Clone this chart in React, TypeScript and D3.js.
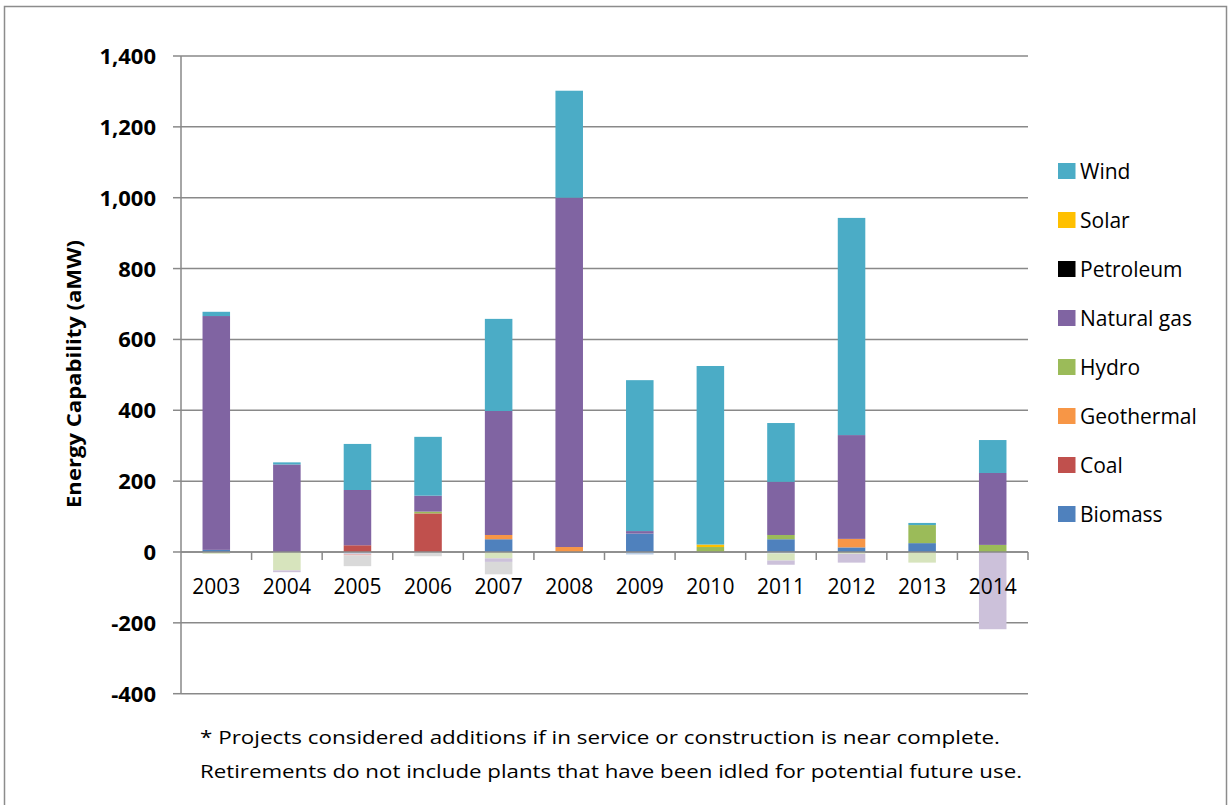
import React from "react";
import * as d3 from "d3";

const years = ["2003", "2004", "2005", "2006", "2007", "2008", "2009", "2010", "2011", "2012", "2013", "2014"];

const biomass = [6, 0, 0, 0, 36, 0, 52, 0, 36, 13, 25, 0];
const coal = [0, 0, 19, 109, 0, 0, 0, 0, 0, 0, 0, 0];
const geothermal = [0, 0, 0, 0, 12, 14, 0, 0, 0, 24, 0, 0];
const hydro = [0, 0, 0, 5, 0, 0, 0, 14, 12, 0, 51, 20];
const naturalGas = [660, 247, 156, 45, 350, 986, 7, 0, 150, 293, 0, 203];
const petroleum = [0, 0, 0, 0, 0, 0, 0, 0, 0, 0, 0, 0];
const solar = [0, 0, 0, 0, 0, 0, 0, 7, 0, 0, 0, 0];
const wind = [12, 6, 130, 166, 260, 302, 426, 504, 166, 613, 6, 93];

const biomassRet = [0, 0, -5, 0, 0, 0, -7, 0, -4, 0, 0, 0];
const coalRet = [0, 0, -5, 0, 0, 0, 0, 0, 0, 0, 0, 0];
const hydroRet = [-5, -52, 0, 0, -18, 0, 0, 0, -20, -5, -30, 0];
const naturalGasRet = [0, -5, 0, 0, -10, 0, 0, 0, -12, -25, 0, -218];
const petroleumRet = [0, 0, -30, -12, -35, 0, 0, 0, 0, 0, 0, 0];

const yTicks = [-400, -200, 0, 200, 400, 600, 800, 1000, 1200, 1400];
const legendNames = ["Wind", "Solar", "Petroleum", "Natural gas", "Hydro", "Geothermal", "Coal", "Biomass"];

const series: { key: string; values: number[]; color: string }[] = [
  { key: "Biomass", values: biomass, color: "#4F81BD" },
  { key: "Coal", values: coal, color: "#C0504D" },
  { key: "Geothermal", values: geothermal, color: "#F79646" },
  { key: "Hydro", values: hydro, color: "#9BBB59" },
  { key: "Natural gas", values: naturalGas, color: "#8064A2" },
  { key: "Petroleum", values: petroleum, color: "#000000" },
  { key: "Solar", values: solar, color: "#FFC000" },
  { key: "Wind", values: wind, color: "#4BACC6" },
  { key: "Biomass ret", values: biomassRet, color: "#B9CDE5" },
  { key: "Coal ret", values: coalRet, color: "#E6B9B8" },
  { key: "Hydro ret", values: hydroRet, color: "#D7E4BD" },
  { key: "Natural gas ret", values: naturalGasRet, color: "#CCC1DA" },
  { key: "Petroleum ret", values: petroleumRet, color: "#D9D9D9" },
];

const colorOf: Record<string, string> = {};
series.forEach((s) => (colorOf[s.key] = s.color));

const FONT = "'Open Sans', 'Noto Sans', sans-serif";
const GRID = "#898989";

export default function App() {
  const left = 181;
  const right = 1028;
  const top = 56;
  const bottom = 693.7;

  const x = d3.scaleBand<string>().domain(years).range([left, right]).paddingInner(0.61).paddingOuter(0.305);
  const y = d3.scaleLinear().domain([-400, 1400]).range([bottom, top]);

  const table = years.map((yr, i) => {
    const row: Record<string, any> = { year: yr };
    series.forEach((s) => (row[s.key] = s.values[i]));
    return row;
  });
  const stacked = d3
    .stack<Record<string, any>>()
    .keys(series.map((s) => s.key))
    .offset(d3.stackOffsetDiverging)(table);

  const step = x.step();
  const fmt = (t: number) => d3.format(",")(t).replace("\u2212", "-");

  return (
    <svg width={1232} height={805} style={{ position: "absolute", left: 0, top: 0, background: "#fff" }}>
      <rect x={4.5} y={6.5} width={1222} height={820} fill="#fff" stroke="#8c8c8c" strokeWidth={1.5} />
      {/* gridlines */}
      {yTicks.map((t) => (
        <line key={t} x1={left} x2={right} y1={y(t)} y2={y(t)} stroke={GRID} strokeWidth={1.5} />
      ))}
      {/* bars */}
      {stacked.map((layer) => (
        <g key={layer.key} fill={colorOf[layer.key]}>
          {layer.map((d, i) => {
            const h = Math.abs(y(d[0]) - y(d[1]));
            if (h < 0.01) return null;
            return (
              <rect
                key={i}
                x={x(years[i])}
                y={Math.min(y(d[0]), y(d[1]))}
                width={x.bandwidth()}
                height={h}
              />
            );
          })}
        </g>
      ))}
      {/* y axis */}
      <line x1={left} x2={left} y1={top} y2={bottom} stroke={GRID} strokeWidth={1.5} />
      {yTicks.map((t) => (
        <line key={"yt" + t} x1={left - 8} x2={left} y1={y(t)} y2={y(t)} stroke={GRID} strokeWidth={1.5} />
      ))}
      {yTicks.map((t) => (
        <text
          key={"yl" + t}
          x={156}
          y={y(t) + 8}
          textAnchor="end"
          fontFamily={FONT}
          fontWeight="bold"
          fontSize={22}
          fill="#000"
        >
          {fmt(t)}
        </text>
      ))}
      {/* zero axis */}
      <line x1={left} x2={right} y1={y(0)} y2={y(0)} stroke={GRID} strokeWidth={1.5} />
      {years.map((yr, i) => (
        <line
          key={"xt" + yr}
          x1={left + step * (i + 1)}
          x2={left + step * (i + 1)}
          y1={y(0)}
          y2={y(0) + 8}
          stroke={GRID}
          strokeWidth={1.5}
        />
      ))}
      {years.map((yr) => (
        <text
          key={"xl" + yr}
          x={(x(yr) as number) + x.bandwidth() / 2}
          y={594}
          textAnchor="middle"
          fontFamily={FONT}
          fontSize={21}
          fill="#000"
        >
          {yr}
        </text>
      ))}
      {/* y axis title */}
      <text
        transform="translate(81,374) rotate(-90)"
        textAnchor="middle"
        fontFamily={FONT}
        fontWeight="bold"
        fontSize={19}
        textLength={268}
        lengthAdjust="spacingAndGlyphs"
        fill="#000"
      >
        Energy Capability (aMW)
      </text>
      {/* legend */}
      {legendNames.map((name, i) => (
        <g key={"lg" + name} transform={`translate(1058, ${163 + i * 49})`}>
          <rect x={0} y={0} width={17.5} height={16} fill={colorOf[name]} />
          <text x={22} y={15.5} fontFamily={FONT} fontSize={21} fill="#000">
            {name}
          </text>
        </g>
      ))}
      {/* footnote */}
      <text
        x={200}
        y={744}
        fontFamily={FONT}
        fontSize={19}
        textLength={800}
        lengthAdjust="spacingAndGlyphs"
        fill="#000"
      >
        * Projects considered additions  if in service or construction is near complete.
      </text>
      <text
        x={200}
        y={778}
        fontFamily={FONT}
        fontSize={19}
        textLength={822}
        lengthAdjust="spacingAndGlyphs"
        fill="#000"
      >
        Retirements do not include plants that have been idled for potential future use.
      </text>
    </svg>
  );
}
